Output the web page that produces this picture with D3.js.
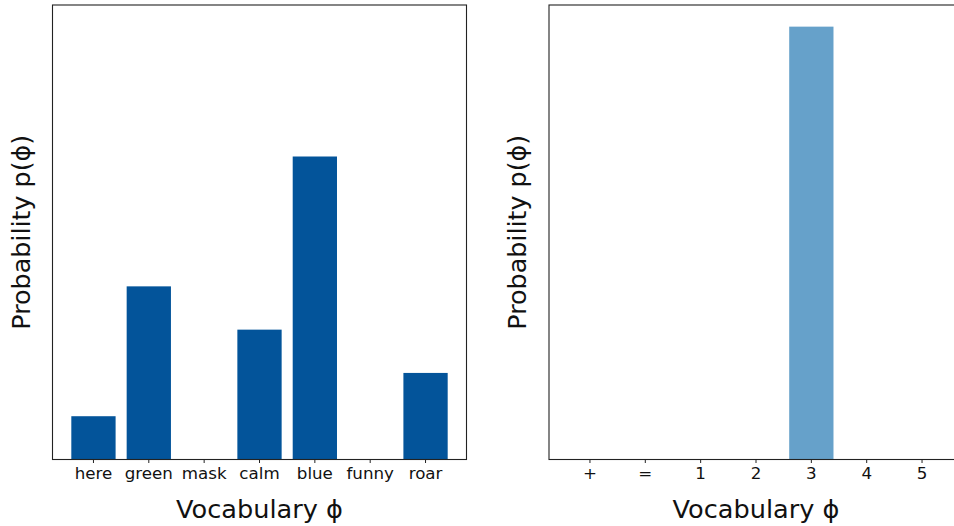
<!DOCTYPE html>
<html>
<head>
<meta charset="utf-8">
<script src="https://cdn.jsdelivr.net/npm/d3@7"></script>
<style>
  html, body { margin: 0; padding: 0; background: #fff; }
  svg { display: block; font-family: "DejaVu Sans", sans-serif; }
</style>
</head>
<body>
<svg id="chart" width="954" height="526"></svg>
<script>
// Word vocabulary and its distribution
const wordCategories = ["here", "green", "mask", "calm", "blue", "funny", "roar"];
const wordProbs = [0.1, 0.4, 0, 0.3, 0.7, 0, 0.2];

// Symbol vocabulary and its distribution
const symbolCategories = ["+", "=", "1", "2", "3", "4", "5"];
const symbolProbs = [0, 0, 0, 0, 1, 0, 0];

const yMax = 1.05;
const svg = d3.select("#chart");

function panel(left, categories, values, color) {
  const top = 5, bottom = 459.5, width = 414;
  const right = left + width;

  const x = d3.scaleBand()
    .domain(categories)
    .range([left, right])
    .paddingInner(0.2)
    .paddingOuter(0.34);

  const y = d3.scaleLinear().domain([0, yMax]).range([bottom, top]);

  const g = svg.append("g");

  g.selectAll("rect.bar")
    .data(categories.map((c, i) => ({ c, v: values[i] })))
    .join("rect")
    .attr("class", "bar")
    .attr("x", d => x(d.c))
    .attr("width", x.bandwidth())
    .attr("y", d => y(d.v))
    .attr("height", d => bottom - y(d.v))
    .attr("fill", color);

  // frame
  g.append("rect")
    .attr("x", left)
    .attr("y", top)
    .attr("width", width)
    .attr("height", bottom - top)
    .attr("fill", "none")
    .attr("stroke", "#222")
    .attr("stroke-width", 1.1);

  const axis = g.append("g")
    .attr("transform", `translate(0,${bottom})`)
    .call(d3.axisBottom(x).tickSize(3.5).tickPadding(4.5));
  axis.select(".domain").remove();
  axis.selectAll(".tick line").attr("stroke", "#222").attr("stroke-width", 1);
  axis.selectAll(".tick text")
    .attr("font-family", "DejaVu Sans, sans-serif")
    .attr("font-size", 16.7)
    .attr("fill", "#111");

  g.append("text")
    .attr("x", (left + right) / 2)
    .attr("y", 518)
    .attr("text-anchor", "middle")
    .attr("font-size", 25.6)
    .attr("fill", "#111")
    .text("Vocabulary \u03D5");

  g.append("text")
    .attr("transform", `translate(${left - 23},${(top + bottom) / 2}) rotate(-90)`)
    .attr("text-anchor", "middle")
    .attr("font-size", 25.4)
    .attr("fill", "#111")
    .text("Probability p(\u03D5)");
}

panel(52.5, wordCategories, wordProbs, "#03549a");
panel(549, symbolCategories, symbolProbs, "#66a1ca");
</script>
</body>
</html>
